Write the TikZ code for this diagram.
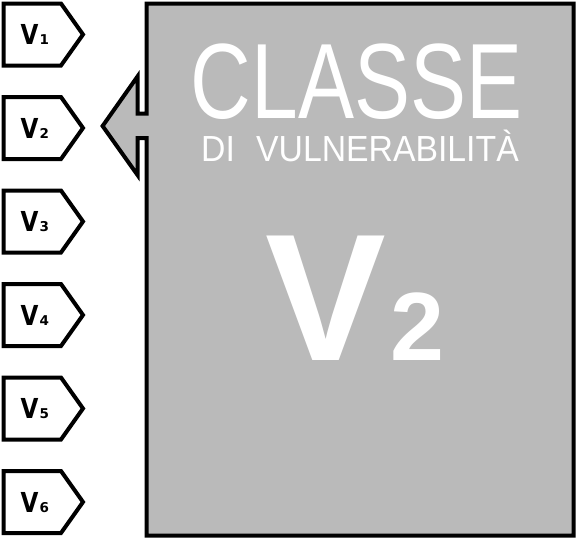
\documentclass[tikz,border=0pt]{standalone}
\usepackage{fontspec}
\usepackage{graphicx}
\setmainfont{Liberation Sans}
\newfontfamily\tagfont{DejaVu Sans}
\definecolor{panelgray}{RGB}{186,186,186}

\begin{document}
\begin{tikzpicture}[x=1pt,y=-1pt,
  outline/.style={draw=black, line width=4pt, line join=miter},
  tagbox/.style={outline, fill=white},
  taglabel/.style={inner sep=0pt, anchor=base west},
  bigtext/.style={inner sep=0pt, text=white, text depth=0pt}]
\useasboundingbox (0,0) rectangle (576,538);

% grey panel with its pointer on the left side
\draw[outline, fill=panelgray]
  (146.5,3.7) -- (573.5,3.7) -- (573.5,535.5) -- (146.5,535.5)
  -- (146.5,138) -- (137.5,138) -- (137.5,175) -- (102.6,126)
  -- (137.5,76.5) -- (137.5,113.5) -- (146.5,113.5) -- cycle;

% class tags V1..V6
\foreach \k in {1,...,6} {
  \pgfmathsetmacro{\cy}{34.5+93.5*(\k-1)}
  \draw[tagbox] (3.7,\cy-31) -- (61,\cy-31) -- (83,\cy) -- (61,\cy+31)
    -- (3.7,\cy+31) -- cycle;
  \node[taglabel] (t\k) at (20.5,\cy+10)
    {\tagfont\bfseries\scalebox{0.84}[1]{\fontsize{27.5}{27.5}\selectfont V}\kern1pt\fontsize{13.5}{13.5}\selectfont\k};
}

% panel texts
\node[bigtext, anchor=base] (classe) at (356.7,118.3)
  {\scalebox{0.785}[1]{\fontsize{107}{107}\selectfont CLASSE}};
\node[bigtext, anchor=base, text height=30pt] (vuln) at (360,161)
  {\scalebox{0.93}[1]{\fontsize{36.3}{36.3}\selectfont DI\hspace{0.35em} VULNERABILIT\`A}};
\node[bigtext, anchor=base west] (bigv) at (265.5,360)
  {\bfseries\fontsize{181}{181}\selectfont V};
\node[bigtext, anchor=base west] (bigtwo) at (390,360)
  {\bfseries\fontsize{97}{97}\selectfont 2};
\end{tikzpicture}
\end{document}
